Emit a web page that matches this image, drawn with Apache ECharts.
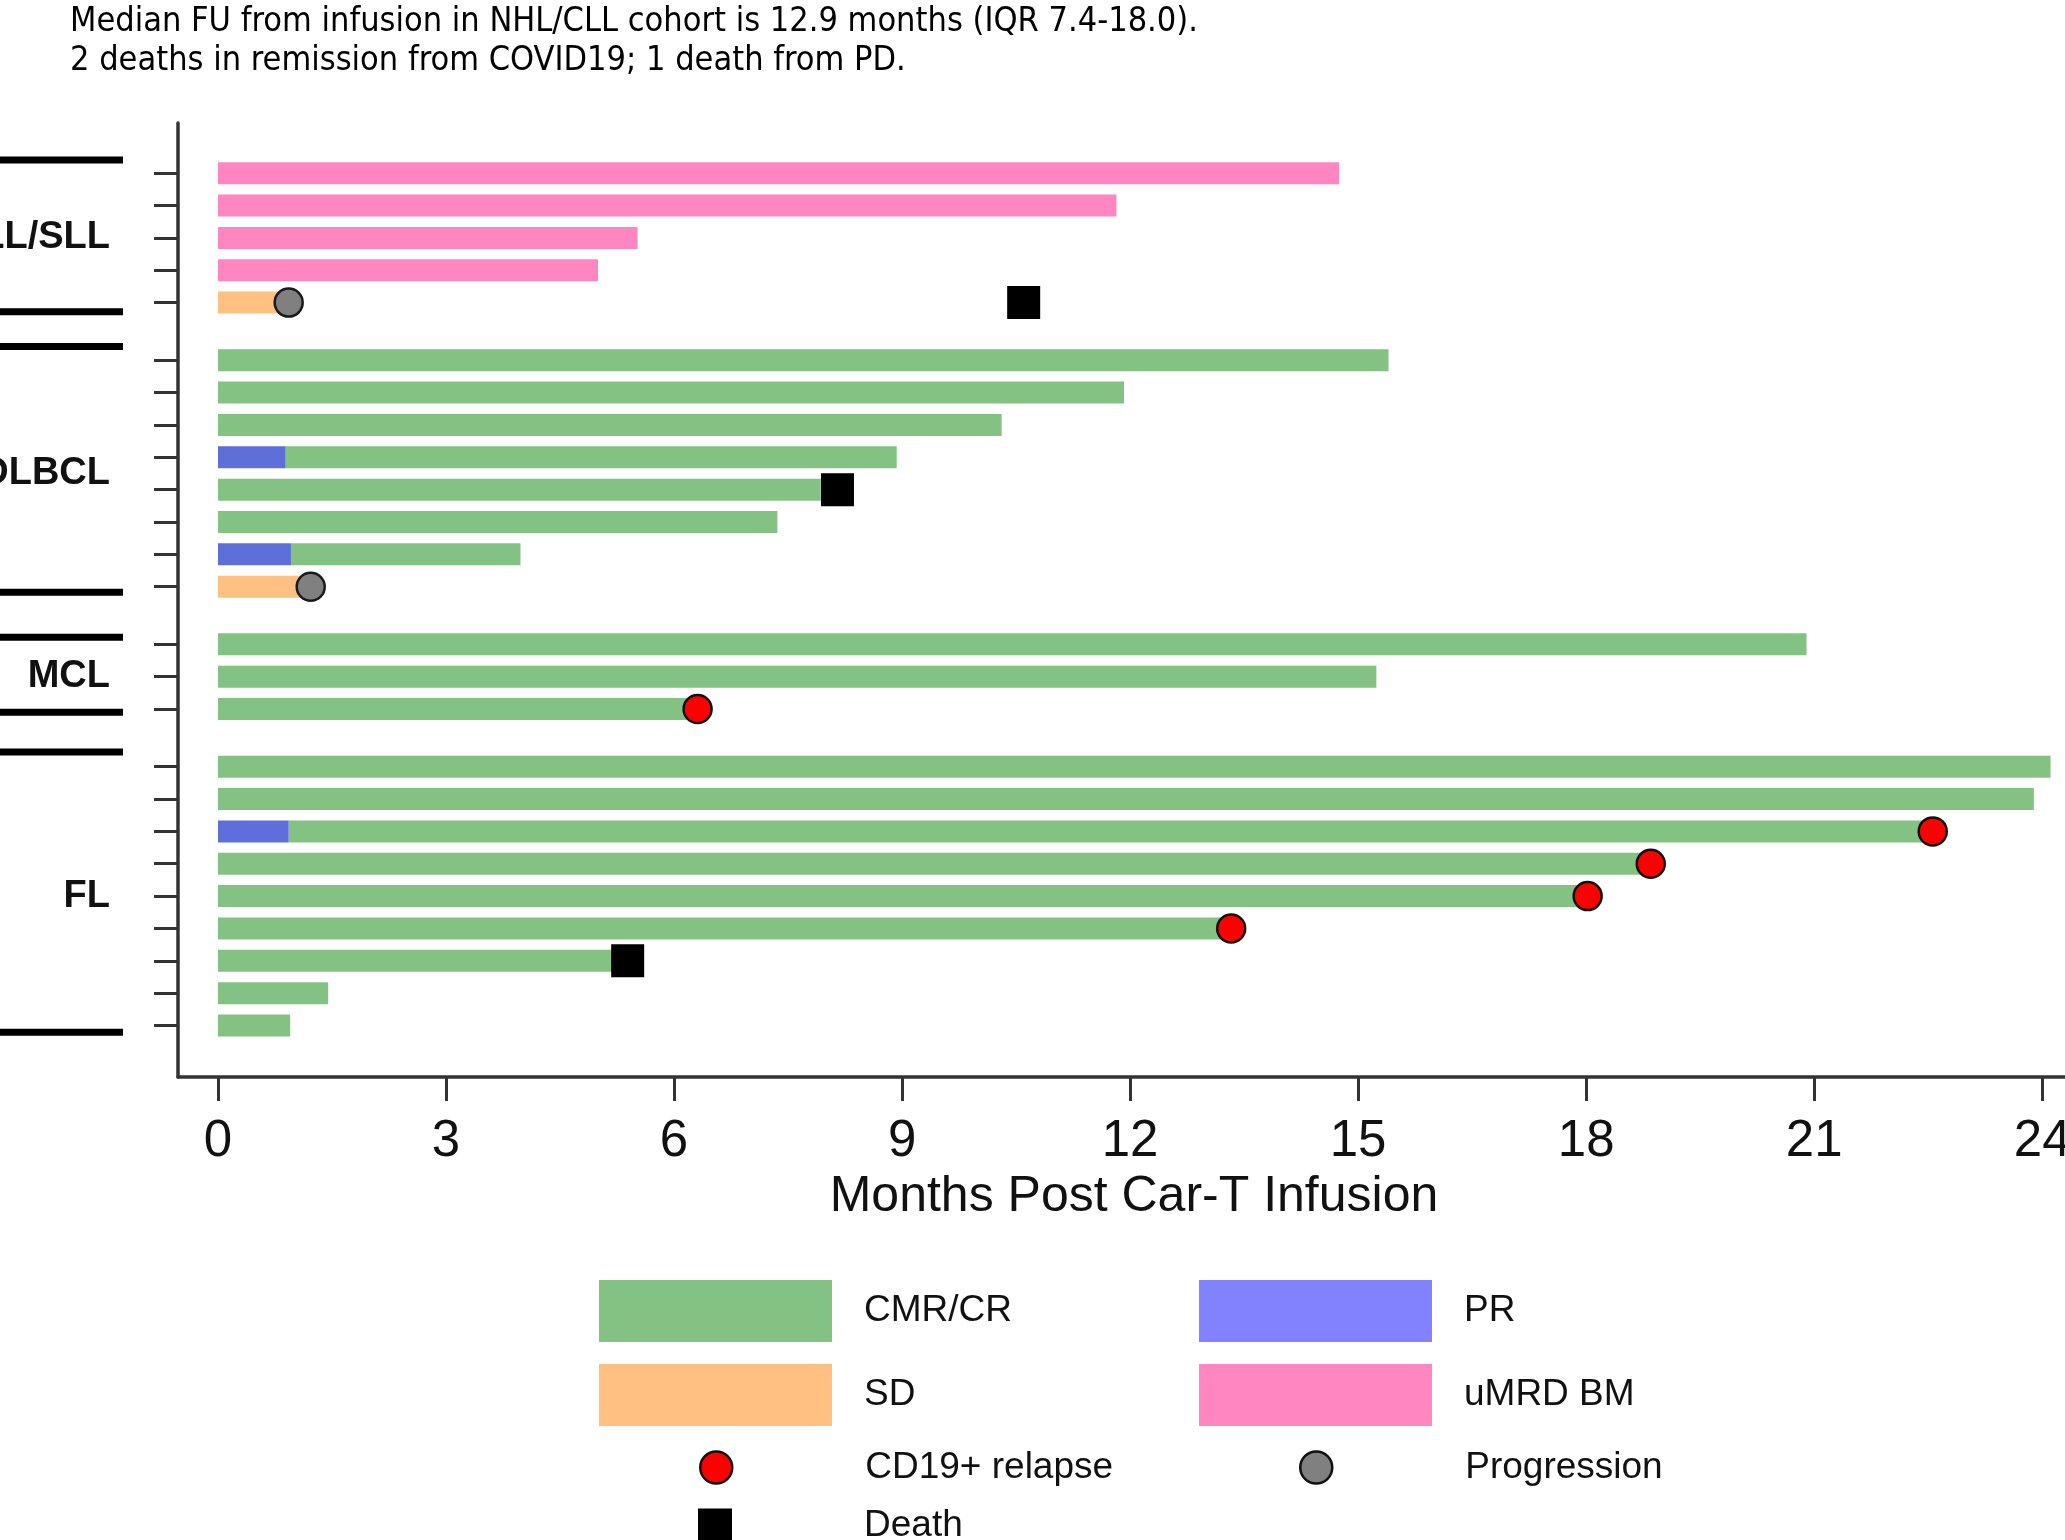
<!DOCTYPE html>
<html>
<head>
<meta charset="utf-8">
<title>Swimmer plot – months post CAR-T infusion</title>
<script src="https://cdn.jsdelivr.net/npm/echarts@6/dist/echarts.min.js"></script>
<style>
  html, body { margin: 0; padding: 0; background: #ffffff; }
  #chart { width: 2065px; height: 1540px; }
</style>
</head>
<body>
<div id="chart"></div>
<script>
// ---- Data ---------------------------------------------------------------
const cohorts = ['CLL/SLL', 'DLBCL', 'MCL', 'FL'];
const cohortSizes = [5, 8, 3, 9];

// Patient rows are numbered top to bottom across all cohorts (0-24).
// Response segments, months post infusion: [row, start, end]
const umrdSegments = [[0, 0, 14.75], [1, 0, 11.82], [2, 0, 5.52], [3, 0, 5.00]];
const sdSegments = [[4, 0, 0.93], [12, 0, 1.22]];
const prSegments = [[8, 0, 0.89], [11, 0, 0.96], [18, 0, 0.93]];
const crSegments = [
  [5, 0, 15.40], [6, 0, 11.92], [7, 0, 10.31], [8, 0.89, 8.93], [9, 0, 7.93],
  [10, 0, 7.36], [11, 0.96, 3.98],
  [13, 0, 20.90], [14, 0, 15.24], [15, 0, 6.31],
  [16, 0, 24.11], [17, 0, 23.89], [18, 0.93, 22.56], [19, 0, 18.85], [20, 0, 18.02],
  [21, 0, 13.33], [22, 0, 5.19], [23, 0, 1.45], [24, 0, 0.95]
];

// Events: [row, month]
const relapseEvents = [[15, 6.31], [18, 22.56], [19, 18.85], [20, 18.02], [21, 13.33]];
const progressionEvents = [[4, 0.93], [12, 1.22]];
const deathEvents = [[4, 10.60], [9, 8.15], [22, 5.39]];

// X axis tick labels (months)
const monthTicks = [0, 3, 6, 9, 12, 15, 18, 21, 24];

// Cohort separator bars on the left, in row units
const bracketEdges = [-0.41, 4.28, 5.36, 12.95, 14.34, 16.66, 17.89, 26.55];

// ---- Layout helpers -----------------------------------------------------
const COHORT_GAP = 0.78;      // extra space between cohorts, in rows
const BAR_THICKNESS = 0.68;   // bar height, in rows

const cohortStart = [];
cohortSizes.reduce((acc, n, i) => { cohortStart[i] = acc; return acc + n; }, 0);

function cohortOf(row) {
  for (let i = cohortSizes.length - 1; i >= 0; i--) if (row >= cohortStart[i]) return i;
  return 0;
}
function rowPos(row) { return row + cohortOf(row) * COHORT_GAP; }

const rowPositions = [];
for (let r = 0; r < cohortSizes.reduce((a, b) => a + b, 0); r++) rowPositions.push(rowPos(r));
const cohortCenters = cohorts.map((c, i) =>
  rowPos(cohortStart[i]) + (cohortSizes[i] - 1) / 2);

const segData = segs => segs.map(s => [rowPos(s[0]), s[1], s[2]]);
const eventData = evs => evs.map(e => [e[1], rowPos(e[0])]);

const COLORS = {
  cr: '#83C283',
  pr: '#5F6FDA',
  prKey: '#8282FF',
  sd: '#FFC082',
  umrd: '#FF86C1',
  relapse: '#FF0000',
  progression: '#808080',
  death: '#000000'
};

const AXIS_FONT = "'Liberation Sans', Arial, Helvetica, sans-serif";

function barItem(params, api) {
  const y = api.value(0);
  const p0 = api.coord([api.value(1), y]);
  const p1 = api.coord([api.value(2), y]);
  const h = api.size([0, BAR_THICKNESS])[1];
  return {
    type: 'rect',
    shape: { x: p0[0], y: p0[1] - h / 2, width: p1[0] - p0[0], height: h },
    style: api.style()
  };
}

function bracketItem(params, api) {
  const y = api.coord([0, api.value(1)])[1];
  return {
    type: 'line',
    shape: { x1: 0, y1: y, x2: 123, y2: y },
    style: { stroke: '#000', lineWidth: 7 }
  };
}

function barSeries(name, segs, color) {
  return {
    name: name,
    type: 'custom',
    renderItem: barItem,
    encode: { x: [1, 2], y: 0 },
    data: segData(segs),
    itemStyle: { color: color, opacity: 1 },
    silent: true,
    z: 2
  };
}

function eventSeries(name, evs, symbol, size, style) {
  return {
    name: name,
    type: 'scatter',
    data: eventData(evs),
    symbol: symbol,
    symbolSize: size,
    itemStyle: Object.assign({ opacity: 1 }, style),
    emphasis: { disabled: true },
    silent: true,
    z: 5
  };
}

const legendText = { fontFamily: AXIS_FONT, fontSize: 37, color: '#111' };

function keyEntry(name, icon, style, left, top, w, h, textPad) {
  return {
    data: [{ name: name, icon: icon, itemStyle: Object.assign({ opacity: 1 }, style) }],
    left: left, top: top, itemWidth: w, itemHeight: h,
    padding: 0, selectedMode: false, orient: 'horizontal',
    textStyle: Object.assign({ padding: [0, 0, 0, textPad], lineHeight: h }, legendText)
  };
}

const chart = echarts.init(document.getElementById('chart'), null, { renderer: 'canvas' });

chart.setOption({
  animation: false,
  backgroundColor: '#ffffff',
  title: {
    text: 'Median FU from infusion in NHL/CLL cohort is 12.9 months (IQR 7.4-18.0).\n2 deaths in remission from COVID19; 1 death from PD.',
    left: 70, top: 3, padding: 0,
    textStyle: {
      fontFamily: "'Liberation Sans Narrow', 'DejaVu Sans Condensed', Lato, sans-serif",
      fontSize: 34, fontWeight: 'normal', color: '#000', lineHeight: 39
    }
  },
  grid: { left: 178, top: 123, right: 0, bottom: 463, containLabel: false, outerBoundsMode: 'none' },
  xAxis: {
    type: 'value',
    min: -0.526, max: 24.30,
    axisLine: { show: true, onZero: false, lineStyle: { color: '#333', width: 3.5 } },
    axisTick: { show: true, customValues: monthTicks, length: 24, lineStyle: { color: '#333', width: 3 } },
    axisLabel: { show: true, customValues: monthTicks, margin: 39, fontSize: 51, fontFamily: AXIS_FONT, color: '#111' },
    splitLine: { show: false },
    name: 'Months Post Car-T Infusion',
    nameLocation: 'middle',
    nameGap: 88,
    nameTextStyle: { fontSize: 50, fontFamily: AXIS_FONT, color: '#111', padding: [0, 0, 0, 25] }
  },
  yAxis: {
    type: 'value',
    inverse: true,
    min: -1.55, max: 27.93,
    axisLine: { show: true, onZero: false, lineStyle: { color: '#333', width: 3.5 } },
    axisTick: { show: true, customValues: rowPositions, length: 24, lineStyle: { color: '#333', width: 3 } },
    axisLabel: {
      show: true, customValues: cohortCenters, margin: 68,
      fontSize: 38, fontWeight: 'bold', fontFamily: AXIS_FONT, color: '#111',
      formatter: v => {
        let best = 0;
        cohortCenters.forEach((c, i) => { if (Math.abs(c - v) < Math.abs(cohortCenters[best] - v)) best = i; });
        return cohorts[best];
      }
    },
    splitLine: { show: false }
  },
  legend: [
    keyEntry('CMR/CR', 'rect', { color: COLORS.cr, borderWidth: 0 }, 599, 1280, 233, 62, 27),
    keyEntry('PR', 'rect', { color: COLORS.prKey, borderWidth: 0 }, 1199, 1280, 233, 62, 27),
    keyEntry('SD', 'rect', { color: COLORS.sd, borderWidth: 0 }, 599, 1364, 233, 62, 27),
    keyEntry('uMRD BM', 'rect', { color: COLORS.umrd, borderWidth: 0 }, 1199, 1364, 233, 62, 27),
    keyEntry('CD19+ relapse', 'circle', { color: COLORS.relapse, borderColor: '#111', borderWidth: 2.5 }, 699, 1449, 32, 32, 128),
    keyEntry('Progression', 'circle', { color: COLORS.progression, borderColor: '#111', borderWidth: 2.5 }, 1299, 1449, 32, 32, 128),
    keyEntry('Death', 'rect', { color: COLORS.death, borderWidth: 0 }, 698, 1507, 34, 34, 127)
  ],
  series: [
    barSeries('uMRD BM', umrdSegments, COLORS.umrd),
    barSeries('SD', sdSegments, COLORS.sd),
    barSeries('CMR/CR', crSegments, COLORS.cr),
    barSeries('PR', prSegments, COLORS.pr),
    eventSeries('CD19+ relapse', relapseEvents, 'circle', 28,
      { color: COLORS.relapse, borderColor: '#111', borderWidth: 2.5 }),
    eventSeries('Progression', progressionEvents, 'circle', 28,
      { color: COLORS.progression, borderColor: '#1a1a1a', borderWidth: 2.5 }),
    eventSeries('Death', deathEvents, 'rect', 33, { color: COLORS.death }),
    {
      name: 'cohort brackets',
      type: 'custom',
      renderItem: bracketItem,
      encode: { x: 0, y: 1 },
      data: bracketEdges.map(v => [0, v]),
      clip: false,
      silent: true,
      z: 3
    }
  ]
});
</script>
</body>
</html>
